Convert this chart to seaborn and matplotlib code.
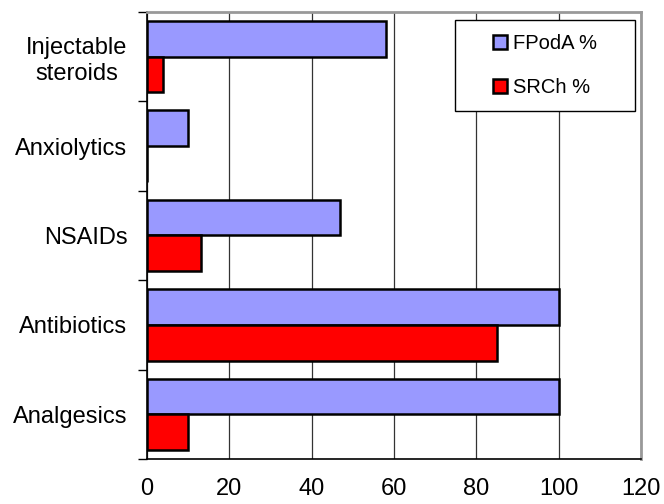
import matplotlib
matplotlib.use("Agg")
import matplotlib.pyplot as plt
from matplotlib.patches import Rectangle, Patch
import pandas as pd
import seaborn as sns

# data (top to bottom)
categories = ["Injectable\nsteroids", "Anxiolytics", "NSAIDs", "Antibiotics", "Analgesics"]
fpoda = [58, 10, 47, 100, 100]
srch = [4, 0, 13, 85, 10]
series = ["FPodA %", "SRCh %"]
colors = ["#9999FF", "#FF0000"]
x_ticks = [0, 20, 40, 60, 80, 100, 120]

df = pd.DataFrame({
    "category": categories * 2,
    "value": fpoda + srch,
    "series": [series[0]] * len(categories) + [series[1]] * len(categories),
})

sns.set_style("white")
plt.rcParams["font.family"] = ["Liberation Sans", "DejaVu Sans"]
plt.rcParams["text.color"] = "black"
plt.rcParams["xtick.color"] = "black"
plt.rcParams["ytick.color"] = "black"

fig = plt.figure(figsize=(6.64, 5.04), dpi=100)
ax = fig.add_axes([0.2214, 0.0893, 0.7440, 0.8869])

sns.barplot(data=df, x="value", y="category", hue="series",
            order=categories, hue_order=series, palette=colors,
            orient="h", width=0.8, saturation=1,
            edgecolor="black", linewidth=1.8,
            legend=False, ax=ax, zorder=3)

ax.set_xlim(0, 120)
ax.set_ylim(len(categories) - 0.5, -0.5)
ax.set_xlabel("")
ax.set_ylabel("")

# x axis
ax.set_xticks(x_ticks)
ax.set_xticklabels([str(t) for t in x_ticks], fontsize=17)
ax.tick_params(axis="x", direction="out", length=6, width=1, colors="black", pad=8)
ax.xaxis.grid(True, color="#333333", linewidth=0.9)
ax.yaxis.grid(False)
ax.set_axisbelow(True)

# y axis: ticks at category boundaries, labels at centers
ax.set_yticks([i - 0.5 for i in range(len(categories) + 1)])
ax.set_yticklabels([""] * (len(categories) + 1))
ax.set_yticks(range(len(categories)), minor=True)
ax.set_yticklabels(categories, minor=True, fontsize=17, multialignment="center")
ax.tick_params(axis="y", which="major", direction="out", length=6.5, width=1, colors="black", left=True)
ax.tick_params(axis="y", which="minor", length=0, pad=14, left=True, labelcolor="black")

for side in ["left", "bottom"]:
    ax.spines[side].set_color("black")
    ax.spines[side].set_linewidth(1.2)
for side in ["top", "right"]:
    ax.spines[side].set_color("#999999")
    ax.spines[side].set_linewidth(2)

# legend in a fixed box
ax.add_patch(Rectangle((0.623, 0.778), 0.365, 0.204, transform=ax.transAxes,
                       facecolor="white", edgecolor="black", linewidth=1, zorder=5))
handles = [Patch(facecolor=c, edgecolor="black", linewidth=1.8) for c in colors]
leg = ax.legend(handles, series, loc="center",
                bbox_to_anchor=(0.623 + 0.1825, 0.778 + 0.102),
                frameon=False, fontsize=14.5, handlelength=0.7, handleheight=0.7,
                handletextpad=0.3, labelspacing=1.25, labelcolor="black")
leg.set_zorder(6)

fig.savefig("out.png", dpi=100)
